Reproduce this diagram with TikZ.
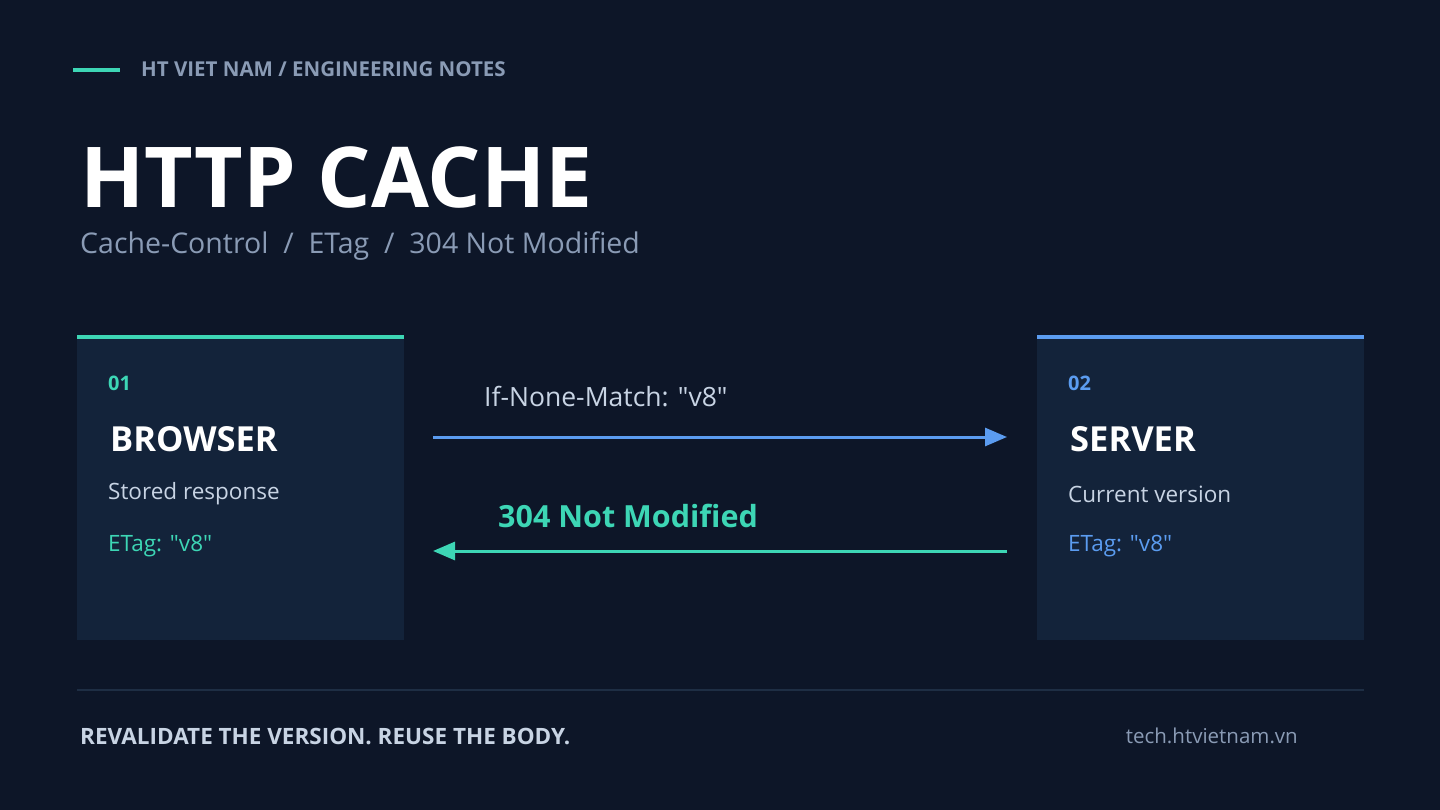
\documentclass[tikz,border=0pt]{standalone}
\usepackage{fontspec}
\setmainfont{Open Sans}[Ligatures=TeXOff]
\usetikzlibrary{arrows.meta}
\definecolor{bg}{HTML}{0D1628}
\definecolor{card}{HTML}{13233A}
\definecolor{teal}{HTML}{3DD6B5}
\definecolor{blu}{HTML}{5B9CF0}
\definecolor{mut}{HTML}{8A9BB5}
\definecolor{lt}{HTML}{C8D4E4}
\definecolor{rule}{HTML}{1E2E44}
\begin{document}
\begin{tikzpicture}[x=1pt,y=-1pt,
  txt/.style={inner sep=0pt,anchor=west}]
\fill[bg] (0,0) rectangle (1440,810);
\useasboundingbox (0,0) rectangle (1440,810);
\draw[teal,line width=4] (73,70) -- (120,70);
\node[txt,text=mut,font=\bfseries\fontsize{20.5}{20}\selectfont] (kick) at (141,69) {HT VIET NAM / ENGINEERING NOTES};
\node[txt,text=white,font=\bfseries\fontsize{84}{84}\selectfont] (title) at (80,177) {HTTP CACHE};
\node[txt,text=mut,font=\fontsize{28.5}{28}\selectfont] (sub) at (80,246) {Cache-Control \ / \ ETag \ / \ 304 Not Modified};
% cards
\fill[card] (77,335) rectangle (404,640);
\draw[teal,line width=4] (77,337) -- (404,337);
\fill[card] (1037,335) rectangle (1364,640);
\draw[blu,line width=4] (1037,337) -- (1364,337);
\node[txt,text=teal,font=\bfseries\fontsize{20}{20}\selectfont] (n1) at (108,383) {01};
\node[txt,text=white,font=\bfseries\fontsize{34.5}{34}\selectfont] (b) at (110,439) {BROWSER};
\node[txt,text=lt,font=\fontsize{22.5}{22}\selectfont] (b2) at (108,494) {Stored response};
\node[txt,text=teal,font=\fontsize{22.5}{22}\selectfont] (b3) at (108,546) {ETag: "v8"};
\node[txt,text=blu,font=\bfseries\fontsize{20}{20}\selectfont] (n2) at (1068,383) {02};
\node[txt,text=white,font=\bfseries\fontsize{34.5}{34}\selectfont] (s) at (1070,439) {SERVER};
\node[txt,text=lt,font=\fontsize{22.5}{22}\selectfont] (s2) at (1068,494) {Current version};
\node[txt,text=blu,font=\fontsize{22.5}{22}\selectfont] (s3) at (1068,546) {ETag: "v8"};
% arrows
\coordinate (a1) at (433,437); \coordinate (a2) at (1007,437);
\coordinate (c1) at (1007,551); \coordinate (c2) at (433,551);
\draw[blu,line width=3,-{Triangle[length=22,width=18]}] (a1) -- (a2);
\draw[teal,line width=3,-{Triangle[length=22,width=18]}] (c1) -- (c2);
\node[txt,text=lt,font=\fontsize{26.5}{26}\selectfont] (l1) at (484,397) {If-None-Match: "v8"};
\node[txt,text=teal,font=\bfseries\fontsize{30.5}{30}\selectfont] (l2) at (498,516) {304 Not Modified};
% footer
\draw[rule,line width=2] (77,690) -- (1364,690);
\node[txt,text=lt,font=\bfseries\fontsize{22.5}{22}\selectfont] (ft) at (80,736) {REVALIDATE THE VERSION. REUSE THE BODY.};
\node[inner sep=0pt,anchor=east,text=mut,font=\fontsize{20.5}{20}\selectfont] (url) at (1298,736) {tech.htvietnam.vn};
\end{tikzpicture}
\end{document}
